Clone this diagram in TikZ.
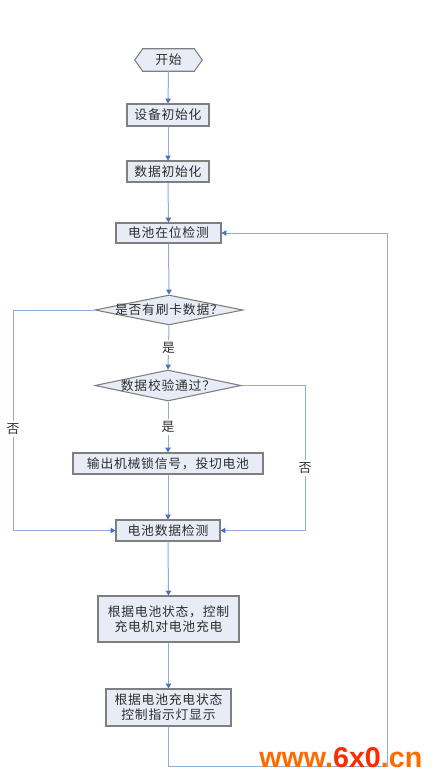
\documentclass[tikz,border=0pt]{standalone}
\usepackage{fontspec}
\newfontfamily\cjk[LetterSpace=6]{Noto Sans CJK SC}
\newfontfamily\wm{Liberation Sans}
\usetikzlibrary{arrows.meta,shapes.geometric,calc}
\definecolor{linec}{HTML}{8FAEDA}
\definecolor{arrc}{HTML}{4A72BE}
\definecolor{boxfill}{HTML}{E7ECF6}
\definecolor{boxline}{HTML}{7F7F7F}
\definecolor{wmorange}{HTML}{FF6A00}
\definecolor{wmred}{HTML}{FF2A00}
\begin{document}
\begin{tikzpicture}[x=0.75pt,y=-0.75pt,
  txt/.style={font=\cjk\fontsize{9.6pt}{11.3pt}\selectfont, text=black!82},
  box/.style={txt, draw=boxline, fill=boxfill, line width=0.8pt, inner sep=0pt, align=center},
  dia/.style={diamond, draw=boxline, fill=boxfill, line width=0.8pt, inner sep=0pt},
  conn/.style={draw=linec, line width=0.75pt},
  arr/.style={conn, -{Triangle[length=3.6pt,width=4pt,color=arrc]}},
  lbl/.style={txt, fill=white, inner sep=1.5pt}
]
\path[fill=white] (0,0) rectangle (434,781);
\useasboundingbox (0,0) rectangle (434,781);

% start hexagon
\node[minimum width=50.25pt, minimum height=16.5pt, inner sep=0pt] (s) at (168.5,60) {};
\draw[draw=boxline, fill=boxfill, line width=0.8pt]
  (s.west) -- ($(s.north west)+(8,0)$) -- ($(s.north east)+(-8,0)$) -- (s.east)
  -- ($(s.south east)+(-8,0)$) -- ($(s.south west)+(8,0)$) -- cycle;
\node[txt] (st) at (s) {开始};

\node[box, minimum width=61.5pt, minimum height=16.5pt] (b1) at (168,115) {设备初始化};
\node[box, minimum width=61.5pt, minimum height=15.75pt] (b2) at (168,171.5) {数据初始化};
\node[box, minimum width=78.75pt, minimum height=15pt] (b3) at (168.5,233) {电池在位检测};
\node[dia, minimum width=111pt, minimum height=22.5pt] (d1) at (169,310) {};
\node[txt] (d1t) at (d1) {是否有刷卡数据？};
\node[dia, minimum width=109.5pt, minimum height=23.25pt] (d2) at (168,385.5) {};
\node[txt] (d2t) at (d2) {数据校验通过？};
\node[box, minimum width=142.5pt, minimum height=15.75pt] (b4) at (168,463.5) {输出机械锁信号，投切电池};
\node[box, minimum width=78pt, minimum height=15.75pt] (b5) at (168,530.5) {电池数据检测};
\node[box, minimum width=105.75pt, minimum height=34.5pt] (b6) at (168.5,619) {根据电池状态，控制\\充电机对电池充电};
\node[box, minimum width=93.75pt, minimum height=27.75pt] (b7) at (168.5,707.5) {根据电池充电状态\\控制指示灯显示};

\coordinate (L) at (13,530.5);
\coordinate (R) at (305,530.5);
\coordinate (F1) at (168.5,766);
\coordinate (F2) at (387,766);

\draw[arr] (s.south) -- (b1.north);
\draw[arr] (b1.south) -- (b2.north);
\draw[arr] (b2.south) -- (b3.north);
\draw[arr] (b3.south) -- (d1.north);
\draw[arr] (d1.south) -- node[lbl] (y1) {是} (d2.north);
\draw[arr] (d2.south) -- node[lbl] (y2) {是} (b4.north);
\draw[arr] (b4.south) -- (b5.north);
\draw[arr] (d1.west) -| (L) -- (b5.west);
\draw[arr] (d2.east) -| (R) -- (b5.east);
\node[lbl] (n1) at (13,429) {否};
\node[lbl] (n2) at (305,468) {否};
\draw[arr] (b5.south) -- (b6.north);
\draw[arr] (b6.south) -- (b7.north);
\draw[arr] (b7.south) -- (F1) -- (F2) |- (b3.east);

% watermark
\node[anchor=base west, inner sep=0pt, font=\wm\bfseries\fontsize{21.5pt}{21.5pt}\selectfont] (wm) at (259,767)
  {\textcolor{wmorange}{www.}\textcolor{wmred}{6x0}\textcolor{wmorange}{.cn}};
\end{tikzpicture}
\end{document}
